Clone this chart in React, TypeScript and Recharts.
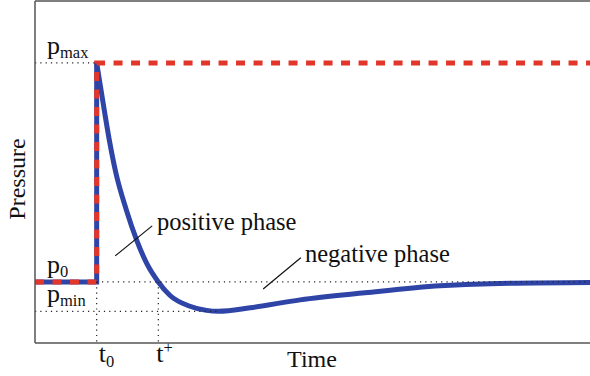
import React from 'react';
import { LineChart, Line, XAxis, YAxis, ReferenceLine } from 'recharts';

// key levels and times (p0 = 0, pmax = 1, t0 = 1, t+ = 2)
const P_MAX = 1;
const P_0 = 0;
const P_MIN = -0.135;
const T_0 = 1;
const T_PLUS = 2;
const X_DOMAIN = [0, 9];
const Y_DOMAIN = [-0.279, 1.283];

const Y_TICKS = [P_MIN, P_0, P_MAX];
const Y_TICK_SUBS = ['min', '0', 'max'];
const X_TICKS = [T_0, T_PLUS];

// idealized step load (red dashed) and the blue step that sits under it
const stepX = [0, T_0, T_0, 9];
const stepY = [P_0, P_0, P_MAX, P_MAX];

// blast pressure curve
const curveX = [1.0, 1.12, 1.21, 1.31, 1.48, 1.65, 1.82, 2.0, 2.19, 2.5, 2.78, 2.98, 3.49, 4.3, 5.35, 6.57, 7.38, 9.0];
const curveY = [1.0, 0.79, 0.64, 0.5, 0.33, 0.19, 0.08, 0, -0.062, -0.11, -0.13, -0.134, -0.118, -0.082, -0.05, -0.018, -0.008, -0.003];

const stepData = stepX.map((x, i) => ({ x, y: stepY[i] }));
const blueStep = stepData.slice(0, 3);
const curveData = curveX.map((x, i) => ({ x, y: curveY[i] }));

// dotted guide lines
const guides = [
  [{ x: 0, y: P_MAX }, { x: T_0, y: P_MAX }],
  [{ x: T_0, y: P_0 }, { x: 9, y: P_0 }],
  [{ x: 0, y: P_MIN }, { x: 3.0, y: P_MIN }],
  [{ x: T_0, y: P_0 }, { x: T_0, y: Y_DOMAIN[0] }],
  [{ x: T_PLUS, y: P_0 }, { x: T_PLUS, y: Y_DOMAIN[0] }],
];

// leader lines for the two labels
const positiveLeader = [{ x: 1.3, y: 0.119 }, { x: 1.9, y: 0.256 }];
const negativeLeader = [{ x: 3.7, y: -0.032 }, { x: 4.31, y: 0.11 }];

const FONT = "'Liberation Serif', 'Times New Roman', serif";
const BLUE = '#2e44a6';
const RED = '#e2362b';
const AXIS = '#555';

const PTick = (props: any) => {
  const i = Y_TICKS.indexOf(props.payload.value);
  return (
    <text x={47} y={props.y - 9} fontFamily={FONT} fontSize={26} fill="#111">
      <tspan>p</tspan>
      <tspan fontSize={16.5} dy={4}>{Y_TICK_SUBS[i]}</tspan>
    </text>
  );
};

const TTick = (props: any) => {
  const isZero = props.payload.value === T_0;
  return (
    <text x={props.x + (isZero ? 2 : -2)} y={362} fontFamily={FONT} fontSize={26} fill="#111">
      <tspan>t</tspan>
      {isZero ? (
        <tspan fontSize={16.5} dy={5}>0</tspan>
      ) : (
        <tspan fontSize={16.5} dy={-9}>+</tspan>
      )}
    </text>
  );
};

export default function App() {
  return (
    <div style={{ position: 'relative', width: 590, height: 376, background: '#fff' }}>
      <style>{'body{margin:0}'}</style>
      <LineChart width={590} height={376} margin={{ top: 1, right: 0, bottom: 0, left: 0 }}>
        <XAxis
          type="number"
          dataKey="x"
          domain={X_DOMAIN}
          ticks={X_TICKS}
          tick={TTick}
          tickLine={false}
          axisLine={{ stroke: AXIS, strokeWidth: 1.5 }}
          height={33}
          allowDataOverflow
        />
        <YAxis
          type="number"
          dataKey="y"
          domain={Y_DOMAIN}
          ticks={Y_TICKS}
          tick={PTick}
          tickLine={false}
          axisLine={{ stroke: AXIS, strokeWidth: 1.5 }}
          width={35}
          allowDataOverflow
        />
        <ReferenceLine y={Y_DOMAIN[1]} stroke={AXIS} strokeWidth={1.5} />

        <Line data={blueStep} dataKey="y" type="linear" stroke={BLUE} strokeWidth={5} dot={false} activeDot={false} isAnimationActive={false} />
        <Line data={curveData} dataKey="y" type="monotone" stroke={BLUE} strokeWidth={5} dot={false} activeDot={false} isAnimationActive={false} />
        <Line
          data={stepData}
          dataKey="y"
          type="linear"
          stroke={RED}
          strokeWidth={5}
          strokeDasharray="9 8.5"
          strokeLinecap="butt"
          dot={false}
          activeDot={false}
          isAnimationActive={false}
        />

        {guides.map((seg, i) => (
          <ReferenceLine key={i} segment={seg} stroke="#222" strokeWidth={1.2} strokeDasharray="1.2 4.1" />
        ))}
        <ReferenceLine segment={positiveLeader} stroke="#111" strokeWidth={1.2} />
        <ReferenceLine segment={negativeLeader} stroke="#111" strokeWidth={1.2} />
      </LineChart>

      <svg width={590} height={376} style={{ position: 'absolute', left: 0, top: 0, pointerEvents: 'none' }}>
        <g fontFamily={FONT} fontSize={24.5} fill="#111">
          <text x={157} y={230}>positive phase</text>
          <text x={305} y={262}>negative phase</text>
          <text x={312} y={367} textAnchor="middle" fontSize={24}>Time</text>
          <text transform="translate(25,179) rotate(-90)" textAnchor="middle" fontSize={24}>Pressure</text>
        </g>
      </svg>
    </div>
  );
}
